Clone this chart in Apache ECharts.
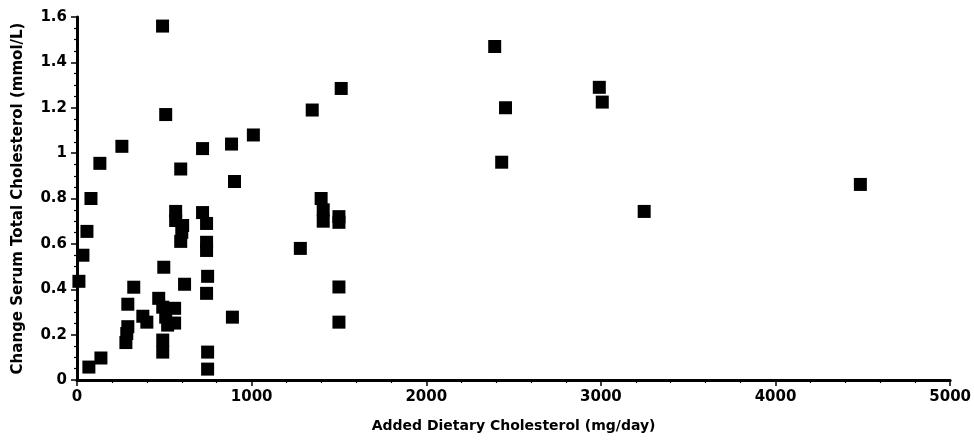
<!DOCTYPE html>
<html>
<head>
<meta charset="utf-8">
<script src="https://cdn.jsdelivr.net/npm/echarts@6/dist/echarts.min.js"></script>
<style>
html,body{margin:0;padding:0;background:#fff;}
#chart{width:974px;height:443px;}
</style>
</head>
<body>
<div id="chart"></div>
<script>
// Added dietary cholesterol (mg/day)
var xValues = [
  490, 508, 131, 257, 80, 57, 34, 11, 594, 719, 885, 1010, 902,
  2392, 1513, 1347, 2454, 2432, 1398, 1410, 1410, 1500, 1500, 1279, 1500, 1500,
  2991, 3008, 4486, 3248,
  565, 565, 605, 600, 594, 719, 742, 742, 742, 748, 742, 748, 748,
  497, 616, 325, 291, 377, 400, 468, 491, 508, 519, 559, 559,
  291, 285, 280, 491, 491, 137, 68, 890
];
// Change in serum total cholesterol (mmol/L)
var yValues = [
  1.56, 1.17, 0.955, 1.03, 0.80, 0.655, 0.55, 0.435, 0.93, 1.02, 1.04, 1.08, 0.875,
  1.47, 1.285, 1.19, 1.20, 0.96, 0.80, 0.75, 0.70, 0.72, 0.695, 0.58, 0.41, 0.255,
  1.29, 1.225, 0.862, 0.743,
  0.743, 0.703, 0.681, 0.651, 0.611, 0.738, 0.690, 0.607, 0.571, 0.457, 0.382, 0.123, 0.048,
  0.497, 0.422, 0.409, 0.334, 0.281, 0.255, 0.360, 0.321, 0.277, 0.242, 0.316, 0.251,
  0.235, 0.205, 0.165, 0.176, 0.123, 0.097, 0.057, 0.277
];
var xTicks = {min: 0, max: 5000, interval: 1000};
var yTicks = {min: 0, max: 1.6, interval: 0.2};

var points = xValues.map(function (x, i) { return [x, yValues[i]]; });

var font = '"DejaVu Sans", "Liberation Sans", sans-serif';
var chart = echarts.init(document.getElementById('chart'), null, {renderer: 'canvas'});
chart.setOption({
  animation: false,
  backgroundColor: '#fff',
  grid: {left: 77, right: 21, top: 17, bottom: 63, containLabel: false},
  xAxis: {
    type: 'value',
    min: xTicks.min, max: xTicks.max, interval: xTicks.interval,
    name: 'Added Dietary Cholesterol (mg/day)',
    nameLocation: 'middle', nameGap: 39,
    nameTextStyle: {color: '#000', fontFamily: font, fontWeight: 'bold', fontSize: 14},
    axisLine: {show: true, onZero: false, lineStyle: {color: '#000', width: 3}},
    axisTick: {show: true, length: 6, lineStyle: {color: '#000', width: 1.5}},
    minorTick: {show: true, splitNumber: 5, length: 3, lineStyle: {color: '#000', width: 1.2}},
    axisLabel: {color: '#000', fontFamily: font, fontWeight: 'bold', fontSize: 15, margin: 10,
      formatter: function (v) { return String(v); }},
    splitLine: {show: false}
  },
  yAxis: {
    type: 'value',
    min: yTicks.min, max: yTicks.max, interval: yTicks.interval,
    name: 'Change Serum Total Cholesterol (mmol/L)',
    nameLocation: 'middle', nameGap: 51,
    nameTextStyle: {color: '#000', fontFamily: font, fontWeight: 'bold', fontSize: 15},
    axisLine: {show: true, onZero: false, lineStyle: {color: '#000', width: 3}},
    axisTick: {show: true, length: 6, lineStyle: {color: '#000', width: 1.5}},
    minorTick: {show: true, splitNumber: 4, length: 3, lineStyle: {color: '#000', width: 1.2}},
    axisLabel: {color: '#000', fontFamily: font, fontWeight: 'bold', fontSize: 15, margin: 10},
    splitLine: {show: false}
  },
  series: [{
    type: 'scatter',
    data: points,
    symbol: 'rect',
    symbolSize: 13,
    itemStyle: {color: '#000', opacity: 1}
  }]
});
</script>
</body>
</html>
